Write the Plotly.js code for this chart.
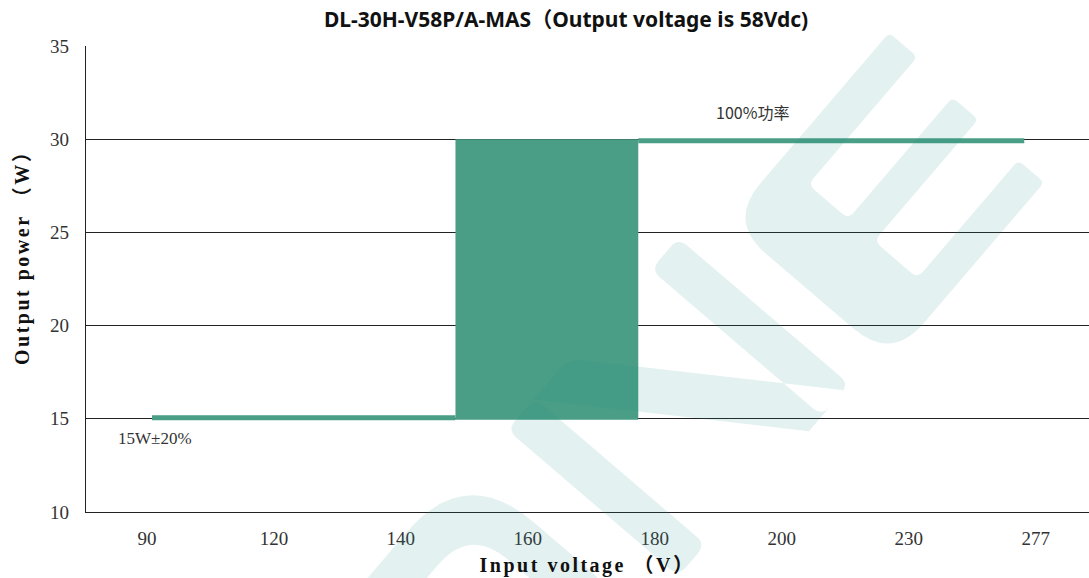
<!DOCTYPE html>
<html>
<head>
<meta charset="utf-8">
<script src="https://cdn.plot.ly/plotly-3.0.1.min.js"></script>
<style>
html,body{margin:0;padding:0;background:#fff;}
#chart{width:1089px;height:578px;}
.xtitle{letter-spacing:2.5px;}
g.annotation[data-index="2"] text{letter-spacing:2.5px;}
</style>
</head>
<body>
<div id="chart"></div>
<script>
// ---- data ----
const xCategories = ['90', '120', '140', '160', '180', '200', '230', '277'];
const xCategoryIndex = [0, 1, 2, 3, 4, 5, 6, 7];
const yTickValues = [10, 15, 20, 25, 30, 35];
// 15 W segment (position along the category axis, power)
const lowX = [0.04, 2.43];
const lowY = [15.05, 15.05];
// transition band between 15 W and 30 W
const bandX = [2.43, 3.87, 3.87, 2.43, 2.43];
const bandY = [14.95, 14.95, 30, 30, 14.95];
// 30 W (100%) segment
const highX = [3.87, 6.91];
const highY = [29.92, 29.92];
const labelText = ['100%功率', '15W±20%'];
const labelX = [4.77, 0.06];
const labelY = [31.46, 13.92];

const green = '#4a9e86';

const traces = [
  {x: bandX, y: bandY, mode: 'lines', fill: 'toself', fillcolor: green,
   line: {width: 0, color: green}, hoverinfo: 'skip', showlegend: false},
  {x: lowX, y: lowY, mode: 'lines', line: {color: green, width: 5}, showlegend: false},
  {x: highX, y: highY, mode: 'lines', line: {color: green, width: 5}, showlegend: false}
];

// ---- faint watermark logo (decoration) ----
const PL = 86, PT = 46, PW = 1003, PH = 466;
function sn(s, n) { return [s * -0.65 + n * 0.76, s * 0.76 + n * 0.65]; }
function toPaper(p) { return [(p[0] - PL) / PW, (PT + PH - p[1]) / PH]; }
function area(pts) { let a = 0; for (let i = 0; i < pts.length; i++) { const p = pts[i], q = pts[(i + 1) % pts.length]; a += p[0] * q[1] - q[0] * p[1]; } return a / 2; }
function subpath(poly, wantSign) {
  let pts = poly.map(v => { const p = sn(v[0], v[1]); return [p[0], p[1], v[2] || 0]; });
  if (Math.sign(area(pts)) !== wantSign) pts = pts.reverse();
  const N = pts.length; let d = '';
  const f = p => { const q = toPaper(p); return q[0].toFixed(5) + ',' + q[1].toFixed(5); };
  for (let i = 0; i < N; i++) {
    const prev = pts[(i - 1 + N) % N], cur = pts[i], next = pts[(i + 1) % N];
    const r = cur[2];
    const d1 = Math.hypot(prev[0] - cur[0], prev[1] - cur[1]), d2 = Math.hypot(next[0] - cur[0], next[1] - cur[1]);
    const a = [cur[0] + (prev[0] - cur[0]) * Math.min(r, d1 / 2) / d1, cur[1] + (prev[1] - cur[1]) * Math.min(r, d1 / 2) / d1];
    const b = [cur[0] + (next[0] - cur[0]) * Math.min(r, d2 / 2) / d2, cur[1] + (next[1] - cur[1]) * Math.min(r, d2 / 2) / d2];
    d += (i === 0 ? 'M' : 'L') + f(a) + (r > 0 ? ' Q' + f(cur) + ' ' + f(b) : ' L' + f(b)) + ' ';
  }
  return d + 'Z ';
}
const logoE = [[-305, 697, 50], [-305, 912, 50], [-540, 912, 6], [-540, 878, 6], [-385, 878, 8], [-385, 821, 8],
  [-545, 821, 6], [-545, 787, 6], [-385, 787, 8], [-385, 734, 8], [-553, 734, 6], [-553, 697, 6]];
const logoN1 = [[-260, 670, 12], [-218, 670, 12], [-218, 895, 12], [-260, 895, 12]];
const logoN2 = [[-45, 665, 12], [-3, 665, 12], [-3, 890, 12], [-45, 890, 12]];
const logoNd = [[-43, 665, 0], [-97, 665, 14], [-252, 895, 0], [-198, 895, 0]];
const logoOout = [[50, 655, 90], [300, 655, 90], [300, 905, 90], [50, 905, 90]];
const logoOin = [[95, 700, 50], [255, 700, 50], [255, 860, 50], [95, 860, 50]];
const wmPath = subpath(logoE, 1) + subpath(logoN1, 1) + subpath(logoN2, 1) + subpath(logoNd, 1) +
  subpath(logoOout, 1) + subpath(logoOin, -1);

const serif = 'Liberation Serif, DejaVu Serif, Noto Sans CJK SC, serif';

const layout = {
  width: 1089, height: 578,
  margin: {l: PL, r: 0, t: PT, b: 578 - PT - PH, pad: 0},
  paper_bgcolor: '#ffffff', plot_bgcolor: '#ffffff',
  showlegend: false,
  title: {
    text: '<b>DL-30H-V58P/A-MAS（Output voltage is 58Vdc)</b>',
    font: {family: 'Noto Sans, Noto Sans CJK SC, sans-serif', size: 21, color: '#111'},
    x: 0.4786, xanchor: 'center', y: 1 - 20 / 578, yanchor: 'middle', xref: 'paper', yref: 'container'
  },
  xaxis: {
    range: [-0.48, 7.42], tickmode: 'array', tickvals: xCategoryIndex, ticktext: xCategories,
    showgrid: false, zeroline: false, showline: true, linecolor: '#222', linewidth: 1.2,
    ticks: '', ticklabelstandoff: 9,
    tickfont: {family: serif, size: 19, color: '#333'},
    title: {text: '<b>Input voltage （V）</b>', font: {family: serif, size: 20, color: '#111'}, standoff: 10}
  },
  yaxis: {
    range: [10, 35], tickmode: 'array', tickvals: yTickValues,
    showgrid: true, gridcolor: '#222', gridwidth: 1.2, zeroline: false,
    showline: true, linecolor: '#222', linewidth: 1.2,
    ticks: '', ticklabelstandoff: 12,
    tickfont: {family: serif, size: 19, color: '#333'},
    title: {text: ''}
  },
  annotations: [
    {x: labelX[0], y: labelY[0], text: labelText[0], showarrow: false, xanchor: 'center', yanchor: 'middle',
     font: {family: 'Noto Sans CJK SC, Noto Sans, sans-serif', size: 16, color: '#333'}},
    {x: labelX[1], y: labelY[1], text: labelText[1], showarrow: false, xanchor: 'center', yanchor: 'middle',
     font: {family: serif, size: 17, color: '#333'}},
    {xref: 'paper', yref: 'paper', x: (22 - PL) / PW, y: (PT + PH - 253) / PH, xanchor: 'center', yanchor: 'middle',
     text: '<b>Output power （W）</b>', textangle: -90, showarrow: false,
     font: {family: serif, size: 20, color: '#111'}}
  ],
  shapes: [
    {type: 'path', xref: 'paper', yref: 'paper', path: wmPath, layer: 'above',
     fillcolor: 'rgb(40,150,140)', opacity: 0.13, line: {width: 0}}
  ]
};

Plotly.newPlot('chart', traces, layout, {displayModeBar: false, staticPlot: true});
</script>
</body>
</html>
